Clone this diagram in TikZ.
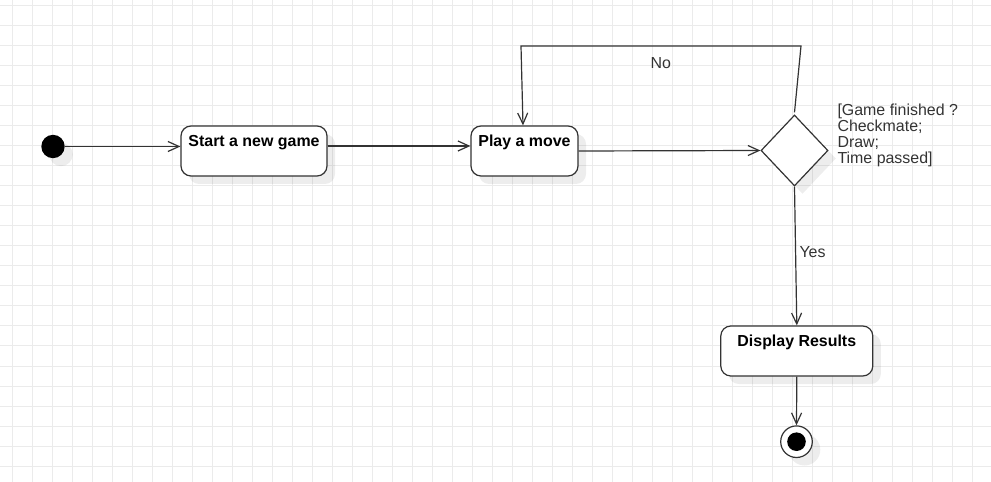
\documentclass[tikz,border=0pt]{standalone}
\usepackage{fontspec}
\setmainfont{Liberation Sans}
\usetikzlibrary{shapes.geometric,arrows.meta,shadows}
\definecolor{gridc}{HTML}{EBEBEB}
\definecolor{linec}{HTML}{333333}
\begin{document}
\begin{tikzpicture}[x=1bp,y=-1bp,
  shadowed/.style={drop shadow={shadow xshift=8bp,shadow yshift=-8bp,fill=black,opacity=0.07}},
  actbox/.style={draw=linec,line width=1.2bp,fill=white,rounded corners=10bp,minimum height=50bp,inner xsep=0pt,inner ysep=0pt,text height=21bp,text depth=29bp,font=\fontsize{16}{19}\selectfont\bfseries,shadowed},
  flow/.style={draw=linec,line width=1.2bp,-{Straight Barb[length=11bp,width=10bp]}},
  lbl/.style={font=\fontsize{16}{15.9}\selectfont,text=linec,inner sep=0pt},
]
\useasboundingbox (0,0) rectangle (991,482);
\foreach \x in {12,32,...,972} \draw[gridc,line width=1bp] (\x,0) -- (\x,482);
\foreach \y in {6,26,...,466} \draw[gridc,line width=1bp] (0,\y) -- (991,\y);

\node[circle,fill=black,minimum size=23.4bp,inner sep=0pt,shadowed] (init) at (53,146.5) {};
\node[actbox,minimum width=146bp] (start) at (254,151) {Start a new game};
\node[actbox,minimum width=107bp] (play) at (524.5,151) {Play a move};
\node[diamond,draw=linec,line width=1.2bp,fill=white,minimum width=67bp,minimum height=71bp,inner sep=0pt,shadowed] (dec) at (794.5,150.5) {};
\node[actbox,minimum width=152bp] (disp) at (796.8,351) {Display Results};
\node[circle,draw=linec,line width=1.2bp,fill=white,minimum size=31.6bp,inner sep=0pt,shadowed] (final) at (796.5,441.7) {};
\fill (final.center) circle (9.3bp);

\coordinate (loopR) at (801,46);
\coordinate (loopL) at (521,46);

\draw[flow] (init.east) -- (init.east -| start.west);
\draw[flow] ([yshift=5bp]start.east) -- ([yshift=5bp]play.west);
\draw[flow] (play.east) -- (dec.west);
\draw[flow] ([yshift=2bp]dec.north) -- (loopR) -- (loopL) -- ([xshift=-1.5bp]play.north);
\draw[flow] (dec.south) -- (disp.north);
\draw[flow] (disp.south) -- (final.north);

\node[lbl] (no) at (660.7,63) {No};
\node[lbl] (yes) at (812.5,252) {Yes};
\node[lbl,anchor=base west,align=left] (guard) at (837.3,163.4) {[Game finished ?\\Checkmate;\\Draw;\\Time passed]};
\end{tikzpicture}
\end{document}
